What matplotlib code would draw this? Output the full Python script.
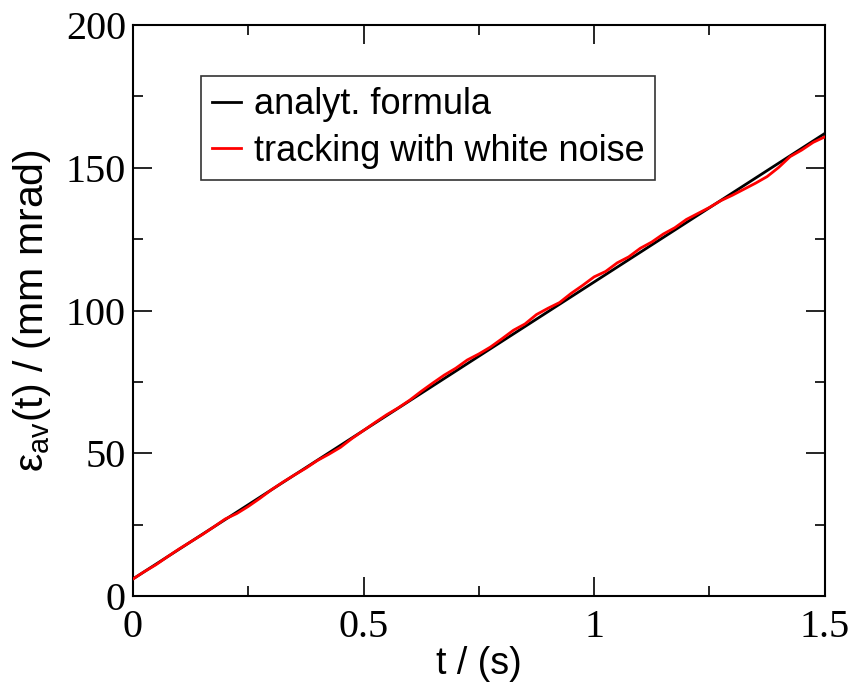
"""
Average emittance growth: analytic formula vs. tracking with white noise
"""

import numpy as np
import matplotlib.pyplot as plt
from matplotlib.ticker import MultipleLocator

# ── Data ─────────────────────────────────────────────────────────────────────
t_formula   = [0.0, 1.5]
eps_formula = [6.0, 162.0]

t_track = [0.0, 0.025, 0.05, 0.075, 0.1, 0.125, 0.15, 0.175, 0.2, 0.225,
           0.25, 0.275, 0.3, 0.325, 0.35, 0.375, 0.4, 0.425, 0.45, 0.475,
           0.5, 0.525, 0.55, 0.575, 0.6, 0.625, 0.65, 0.675, 0.7, 0.725,
           0.75, 0.775, 0.8, 0.825, 0.85, 0.875, 0.9, 0.925, 0.95, 0.975,
           1.0, 1.025, 1.05, 1.075, 1.1, 1.125, 1.15, 1.175, 1.2, 1.225,
           1.25, 1.275, 1.3, 1.325, 1.35, 1.375, 1.4, 1.425, 1.45, 1.475,
           1.5]
eps_track = [6.0, 8.6, 11.0, 13.8, 16.5, 19.0, 21.5, 24.2, 27.0, 28.9,
             31.4, 34.2, 37.2, 39.9, 42.4, 44.8, 47.5, 49.7, 52.1, 55.2,
             58.0, 60.8, 63.5, 65.9, 68.6, 71.7, 74.6, 77.4, 79.8, 82.7,
             84.8, 87.2, 90.1, 93.1, 95.3, 98.6, 100.8, 102.8, 106.0, 108.8,
             111.8, 113.7, 116.7, 118.8, 121.8, 124.0, 126.8, 129.0, 131.9, 134.0,
             136.1, 138.5, 140.4, 142.5, 144.6, 146.9, 150.1, 153.9, 156.2, 158.9,
             160.8]

# ── Plot ─────────────────────────────────────────────────────────────────────
plt.rcParams.update({
    "font.family": "Liberation Sans",
    "mathtext.fontset": "custom",
    "mathtext.rm": "Liberation Sans",
})

fig = plt.figure(figsize=(8.52, 6.86), dpi=100)
ax = fig.add_axes([0.156, 0.131, 0.812, 0.8326])

ax.plot(t_formula, eps_formula, color="black", linewidth=2.0,
        label="analyt. formula", zorder=3)
ax.plot(t_track, eps_track, color="#ff0000", linewidth=2.0,
        label="tracking with white noise", zorder=4)

ax.set_xlim(0, 1.5)
ax.set_ylim(0, 200)
ax.xaxis.set_minor_locator(MultipleLocator(0.25))
ax.yaxis.set_major_locator(MultipleLocator(50))
ax.yaxis.set_minor_locator(MultipleLocator(25))
ax.set_xticks([0, 0.5, 1, 1.5])
ax.set_xticklabels(["0", "0.5", "1", "1.5"])

for s in ax.spines.values():
    s.set_linewidth(1.5)
ax.tick_params(which="both", direction="in", top=True, right=True, width=1.2)
ax.tick_params(which="major", length=14)
ax.tick_params(which="minor", length=7)
ax.tick_params(axis="y", which="major", pad=5)
ax.tick_params(axis="x", which="major", pad=9)
for lab in ax.get_xticklabels() + ax.get_yticklabels():
    lab.set_family("Liberation Serif")
    lab.set_fontsize(29)

ax.set_xlabel("t / (s)", fontsize=27, labelpad=0)
ax.set_ylabel(r"ε$_{\mathregular{av}}$(t) / (mm mrad)", fontsize=29.5)
ax.yaxis.set_label_coords(-0.115, 0.5)

leg = ax.legend(loc="upper left", bbox_to_anchor=(0.099, 0.91), fontsize=26,
                frameon=True, fancybox=False, edgecolor="black",
                handlelength=0.8, handletextpad=0.35, borderpad=0.3,
                labelspacing=0.32, borderaxespad=0)
leg.get_frame().set_linewidth(1.2)

fig.savefig("out.png", dpi=100)
